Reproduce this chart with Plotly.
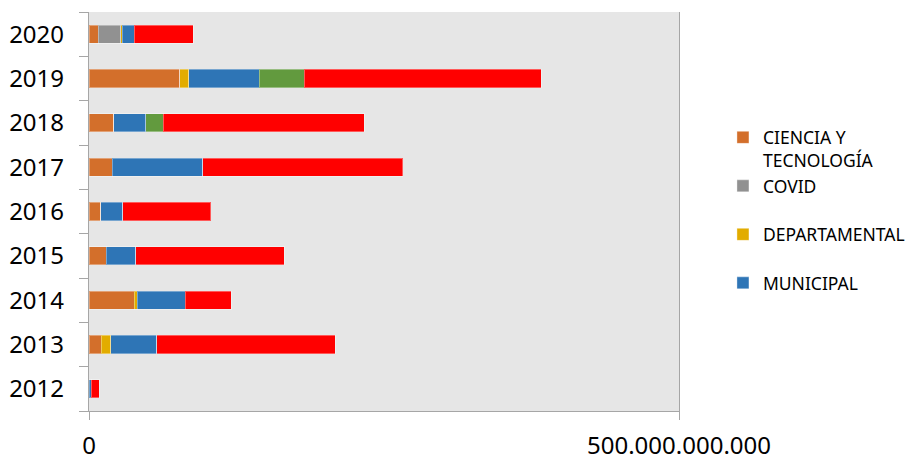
import plotly.graph_objects as go

years = ["2012", "2013", "2014", "2015", "2016", "2017", "2018", "2019", "2020"]

# values in pesos
ciencia_tecnologia = [0, 10.4e9, 38.4e9, 14.7e9, 9.9e9, 19.6e9, 21.1e9, 77.0e9, 7.8e9]
covid = [0, 0, 0, 0, 0, 0, 0, 0, 19.3e9]
departamental = [0, 8.2e9, 2.3e9, 0, 0, 0, 0, 7.6e9, 0.9e9]
municipal = [1.7e9, 38.6e9, 40.7e9, 24.8e9, 18.7e9, 76.8e9, 26.9e9, 59.6e9, 10.3e9]
serie_5 = [0, 0, 0, 0, 0, 0, 14.8e9, 38.1e9, 0]
serie_6 = [6.8e9, 151.4e9, 39.2e9, 126.0e9, 74.5e9, 169.4e9, 170.6e9, 200.8e9, 49.9e9]

series = [
    ("CIENCIA Y<br>TECNOLOGÍA", ciencia_tecnologia, "#D36F2B", True),
    ("COVID<br>\u00a0", covid, "#919191", True),
    ("DEPARTAMENTAL<br>\u00a0", departamental, "#E2AC00", True),
    ("MUNICIPAL<br>\u00a0", municipal, "#2E75B6", True),
    ("SERIE 5", serie_5, "#629A3E", False),
    ("SERIE 6", serie_6, "#FF0000", False),
]

x_ticks = [0, 500e9]

fig = go.Figure()
for name, vals, color, show in series:
    fig.add_trace(go.Bar(
        y=years, x=vals, name=name, orientation="h",
        marker=dict(color=color, line=dict(color="rgba(255,255,255,0.35)", width=1)),
        showlegend=show,
    ))

axis_col = "#A6A6A6"
fig.update_layout(
    width=905, height=447,
    margin=dict(l=81, r=234, t=4, b=44, autoexpand=False),
    barmode="stack",
    bargap=0.59,
    plot_bgcolor="#E6E6E6",
    paper_bgcolor="white",
    separators=",.",
    font=dict(family="Noto Sans", color="#000000"),
    legend=dict(
        x=1.0745, y=0.7306, xanchor="left", yanchor="top",
        font=dict(size=17.5, family="Noto Sans", color="#000000"),
        valign="top", traceorder="normal",
        bgcolor="rgba(0,0,0,0)",
    ),
    xaxis=dict(
        range=[0, 500e9], tickvals=x_ticks, tickformat=",.0f",
        showgrid=False, zeroline=False, automargin=False,
        showline=True, linecolor=axis_col, linewidth=1.3,
        ticks="outside", ticklen=8, tickcolor=axis_col, tickwidth=1.3,
        tickfont=dict(size=24), ticklabelstandoff=5,
    ),
    yaxis=dict(
        type="category", categoryorder="array", categoryarray=years,
        showgrid=False, zeroline=False, automargin=False,
        showline=True, mirror=True, linecolor=axis_col, linewidth=1.3,
        ticks="outside", tickson="boundaries", ticklen=9, tickcolor=axis_col, tickwidth=1.3,
        tickfont=dict(size=24), ticklabelstandoff=19,
    ),
)

fig.write_html("out.html")
